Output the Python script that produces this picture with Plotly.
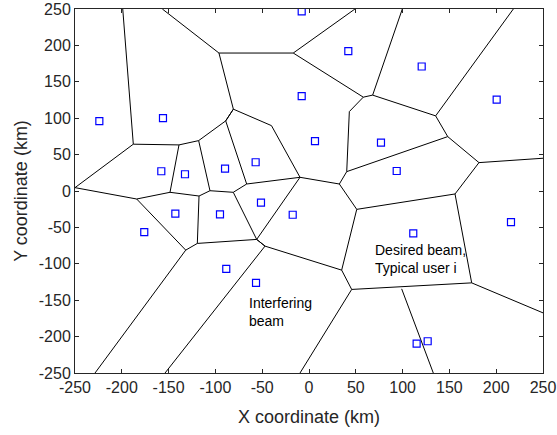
import plotly.graph_objects as go

# Beam-cell boundary vertices (km)
vertex_x = [-199.0, -187.7, -250.0, -138.9, -117.9, -89.0, -80.8, -96.2, -156.7, -16.8,
            49.1, 58.0, 68.0, 99.7, 135.3, 218.3, 148.2, 181.6, 250.0, 40.3,
            43.1, -40.1, -9.6, 32.4, 51.0, 156.0, 173.8, 250.0, 45.6, 34.9,
            -55.9, 99.0, 132.8, -9.6, -184.1, -148.5, -117.5, -105.8, -80.9, -66.6,
            -131.7, -119.3, -228.6, -47.0, -153.8]
vertex_y = [250.0, 64.3, 4.6, 63.3, 69.2, 96.3, 112.4, 189.5, 250.0, 189.5,
            250.0, 128.9, 131.7, 250.0, 103.2, 250.0, 74.7, 39.0, 45.0, 26.6,
            109.1, 89.8, 18.8, 9.6, -25.2, -4.1, -126.2, -167.4, -135.2, -108.7,
            -66.5, -134.4, -250.0, -250.0, -11.0, -1.8, -6.9, 0.4, -1.8, 9.6,
            -81.2, -72.0, -250.0, -75.7, -250.0]

# Cell edges as pairs of vertex indices
edge_start = [0, 1, 1, 3, 4, 5, 6, 7, 7, 9, 9, 11, 12, 12, 14, 14, 16, 17, 16, 11,
              20, 21, 21, 6, 22, 23, 23, 24, 25, 25, 26, 26, 28, 29, 30, 43, 43, 31, 28,
              2, 34, 35, 36, 37, 38, 39, 34, 40, 41, 41, 40, 38, 30, 30, 3, 4, 5]
edge_end = [1, 2, 3, 4, 5, 6, 7, 8, 9, 10, 11, 12, 13, 14, 15, 16, 17, 18, 19, 20,
            19, 6, 22, 5, 23, 19, 24, 25, 17, 26, 27, 28, 29, 24, 43, 29, 44, 32, 33,
            34, 35, 36, 37, 38, 39, 22, 40, 41, 30, 36, 42, 30, 22, 43, 35, 37, 39]

# User positions (km)
user_x = [-224.0, -156.0, -157.8, -132.5, -89.7, -57.0, -7.8, 42.0, 120.4, -7.8,
          200.5, 6.4, 76.9, 93.7, -176.0, -142.8, -95.1, -51.3, -88.4, -56.6,
          -17.4, 111.4, 215.8, 115.0, 126.8]
user_y = [95.9, 100.0, 27.1, 23.0, 30.7, 39.5, 246.7, 192.2, 171.0, 130.3,
          125.6, 68.4, 66.5, 27.5, -56.4, -31.2, -32.1, -16.1, -106.9, -126.2,
          -32.6, -58.2, -42.7, -209.6, -206.4]

tick_vals = list(range(-250, 251, 50))
tick_text = ["-250", "-200", "-150", "-100", "-50", "0", "50", "100", "150", "200", "250"]

line_x, line_y = [], []
for a, b in zip(edge_start, edge_end):
    line_x += [vertex_x[a], vertex_x[b], None]
    line_y += [vertex_y[a], vertex_y[b], None]

fig = go.Figure()
fig.add_trace(go.Scatter(x=line_x, y=line_y, mode="lines",
                         line=dict(color="black", width=1), hoverinfo="skip",
                         showlegend=False))
fig.add_trace(go.Scatter(x=user_x, y=user_y, mode="markers",
                         marker=dict(symbol="square-open", size=7, color="#0000FF",
                                     line=dict(width=1.2, color="#0000FF")),
                         showlegend=False))

axis_common = dict(range=[-250, 250], tickvals=tick_vals, ticktext=tick_text,
                   ticks="inside", ticklen=4, tickcolor="#262626",
                   showline=True, linecolor="#262626", linewidth=1,
                   mirror="ticks", showgrid=False, zeroline=False, automargin=False,
                   tickfont=dict(size=16, color="#262626"))

fig.update_xaxes(**axis_common,
                 title=dict(text="X coordinate (km)", font=dict(size=18, color="#262626"),
                            standoff=15))
fig.update_yaxes(**axis_common,
                 title=dict(text="Y coordinate (km)", font=dict(size=18, color="#262626"),
                            standoff=6))

fig.add_annotation(x=68, y=-93.6, xref="x", yref="y", xanchor="left", yanchor="middle",
                   align="left", showarrow=False, text="Desired beam,<br>Typical user i",
                   font=dict(size=14, color="black"))
fig.add_annotation(x=-66, y=-166.5, xref="x", yref="y", xanchor="left", yanchor="middle",
                   align="left", showarrow=False, text="Interfering<br>beam",
                   font=dict(size=14, color="black"))

fig.update_layout(width=557, height=435,
                  margin=dict(l=75, r=14, t=9, b=62, pad=0),
                  paper_bgcolor="white", plot_bgcolor="white",
                  font=dict(family="Liberation Sans, Arial, sans-serif"))

fig.write_html("out.html")
